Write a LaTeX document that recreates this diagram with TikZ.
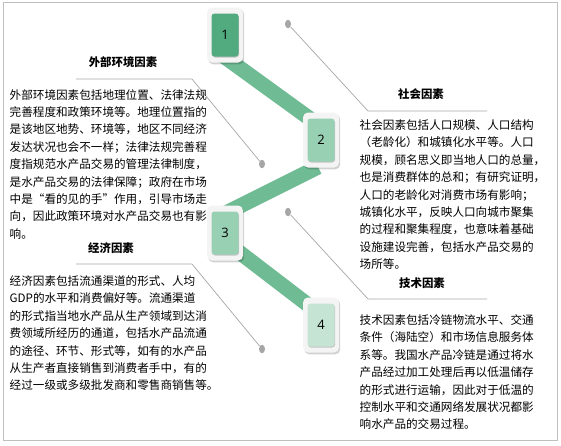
\documentclass[tikz,border=0pt]{standalone}
\usepackage{fontspec}
\setmainfont{Noto Sans CJK SC}
\newfontfamily\numfont{Open Sans}
\usetikzlibrary{shapes,shadows,positioning,calc}

\definecolor{bandgreen}{HTML}{6FBB94}
\definecolor{stepdark}{HTML}{52AA7F}
\definecolor{stepmid}{HTML}{98D0B4}
\definecolor{steplight}{HTML}{C5E4D3}
\definecolor{framegray}{HTML}{F4F4F4}
\definecolor{leadgray}{HTML}{A6A6A6}
\definecolor{bordergray}{HTML}{BFBFBF}

\begin{document}
\begin{tikzpicture}[x=1pt, y=-1pt,
    every text node part/.style={align=left},
    frame/.style={rectangle, fill=framegray, rounded corners=5pt, minimum width=36pt, minimum height=55pt, drop shadow={shadow xshift=1.2pt, shadow yshift=-1.8pt, fill=black, opacity=0.18}},
    numbox/.style={rectangle, rounded corners=3pt, minimum width=27pt, minimum height=43pt, inner sep=0pt, font=\numfont\fontsize{13}{13}\selectfont, drop shadow={shadow xshift=0.6pt, shadow yshift=-1pt, fill=black, opacity=0.2}},
    band/.style={draw=bandgreen, line width=15pt},
    lead/.style={draw=leadgray, line width=0.7pt},
    pin/.style={ellipse, fill=leadgray, minimum width=6pt, minimum height=8.5pt, inner sep=0pt},
    heading/.style={font=\bfseries\fontsize{11.4}{11.4}\selectfont, inner sep=0pt},
    body/.style={font=\fontsize{11.6}{17.4}\selectfont, inner sep=0pt, anchor=north west}]
    \useasboundingbox (0,0) rectangle (561,445);
    \draw [bordergray, line width=0.8pt] (3,2) rectangle (557,440);

    % green bands between the steps
    \coordinate (b1s) at (222,55);
    \coordinate (b1e) at (320,126);
    \coordinate (b2s) at (318,167);
    \coordinate (b2e) at (226,213);
    \coordinate (b3s) at (226,242);
    \coordinate (b3e) at (320,314);
    \draw [band] (b1s) -- (b1e);
    \draw [band] (b2s) -- (b2e);
    \draw [band] (b3s) -- (b3e);

    % numbered steps
    \node [frame] (f1) at (225,35) {};
    \node [numbox, fill=stepdark] (n1) at (f1) {1};
    \node [frame] (f2) at (321,140) {};
    \node [numbox, fill=stepmid] (n2) at (f2) {2};
    \node [frame] (f3) at (225,233) {};
    \node [numbox, fill=stepmid] (n3) at (f3) {3};
    \node [frame] (f4) at (321,325) {};
    \node [numbox, fill=steplight] (n4) at (f4) {4};

    % leader lines
    \node [pin] (p1) at (262,164) {};
    \coordinate (k1) at (192,79);
    \coordinate (h1) at (76,79);
    \draw [lead] (p1) -- (k1) -- (h1);
    \node [pin] (p2) at (288,24) {};
    \coordinate (k2) at (368,111);
    \coordinate (h2) at (487,111);
    \draw [lead] (p2) -- (k2) -- (h2);
    \node [pin] (p3) at (262,349) {};
    \coordinate (k3) at (192,264);
    \coordinate (h3) at (76,264);
    \draw [lead] (p3) -- (k3) -- (h3);
    \node [pin] (p4) at (288,212) {};
    \coordinate (k4) at (368,299);
    \coordinate (h4) at (487,299);
    \draw [lead] (p4) -- (k4) -- (h4);

    % factor texts
    \node [heading] (extTitle) at (123,62.5) {外部环境因素};
    \node [body] (extText) at (9.5,89) {外部环境因素包括地理位置、法律法规\\完善程度和政策环境等。地理位置指的\\是该地区地势、环境等，地区不同经济\\发达状况也会不一样；法律法规完善程\\度指规范水产品交易的管理法律制度，\\是水产品交易的法律保障；政府在市场\\中是“看的见的手”作用，引导市场走\\向，因此政策环境对水产品交易也有影\\响。};
    \node [heading] (socTitle) at (421,94.5) {社会因素};
    \node [body] (socText) at (359.5,119.5) {社会因素包括人口规模、人口结构\\（老龄化）和城镇化水平等。人口\\规模，顾名思义即当地人口的总量，\\也是消费群体的总和；有研究证明，\\人口的老龄化对消费市场有影响；\\城镇化水平，反映人口向城市聚集\\的过程和聚集程度，也意味着基础\\设施建设完善，包括水产品交易的\\场所等。};
    \node [heading] (ecoTitle) at (111,248.3) {经济因素};
    \node [body] (ecoText) at (9.5,275.5) {经济因素包括流通渠道的形式、人均\\GDP的水平和消费偏好等。流通渠道\\的形式指当地水产品从生产领域到达消\\费领域所经历的通道，包括水产品流通\\的途径、环节、形式等，如有的水产品\\从生产者直接销售到消费者手中，有的\\经过一级或多级批发商和零售商销售等。};
    \node [heading] (techTitle) at (422,283.3) {技术因素};
    \node [body] (techText) at (359.5,314.5) {技术因素包括冷链物流水平、交通\\条件（海陆空）和市场信息服务体\\系等。我国水产品冷链是通过将水\\产品经过加工处理后再以低温储存\\的形式进行运输，因此对于低温的\\控制水平和交通网络发展状况都影\\响水产品的交易过程。};
\end{tikzpicture}
\end{document}
